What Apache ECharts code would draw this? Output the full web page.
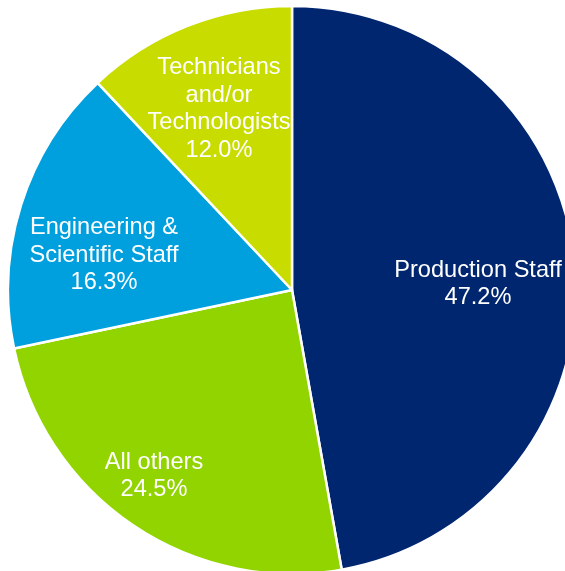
<!DOCTYPE html>
<html>
<head>
<meta charset="utf-8">
<script src="https://cdn.jsdelivr.net/npm/echarts@6/dist/echarts.min.js"></script>
<style>
  html, body { margin: 0; padding: 0; background: #ffffff; }
  #chart { width: 565px; height: 571px; }
</style>
</head>
<body>
<div id="chart"></div>
<script>
// Workforce composition by staff category (percent of total)
var categories = [
  'Production Staff',
  'All others',
  'Engineering &\nScientific Staff',
  'Technicians\nand/or\nTechnologists'
];
var shares = [47.2, 24.5, 16.3, 12.0];
var sliceColors = ['#00266F', '#92D400', '#00A0DF', '#C8DC00'];

// Label anchor points (pixel centres of each text block)
var labelAnchors = [
  [478, 284],
  [154, 476],
  [104, 255],
  [219, 109]
];

var chart = echarts.init(document.getElementById('chart'), null, { renderer: 'canvas' });

chart.setOption({
  animation: false,
  backgroundColor: '#ffffff',
  series: [{
    type: 'pie',
    center: [292, 290],
    radius: 284,
    startAngle: 90,
    clockwise: true,
    avoidLabelOverlap: false,
    silent: true,
    itemStyle: {
      borderColor: '#ffffff',
      borderWidth: 2.5
    },
    label: {
      show: true,
      position: 'inside',
      color: '#ffffff',
      fontFamily: '"Liberation Sans", Arial, sans-serif',
      fontSize: 23.6,
      lineHeight: 27.5,
      align: 'center',
      formatter: function (p) {
        return p.name + '\n' + p.value.toFixed(1) + '%';
      }
    },
    labelLine: { show: false },
    labelLayout: function (params) {
      var a = labelAnchors[params.dataIndex];
      return { x: a[0], y: a[1], align: 'center', verticalAlign: 'middle' };
    },
    data: categories.map(function (name, i) {
      return { name: name, value: shares[i], itemStyle: { color: sliceColors[i] } };
    })
  }]
});
</script>
</body>
</html>
